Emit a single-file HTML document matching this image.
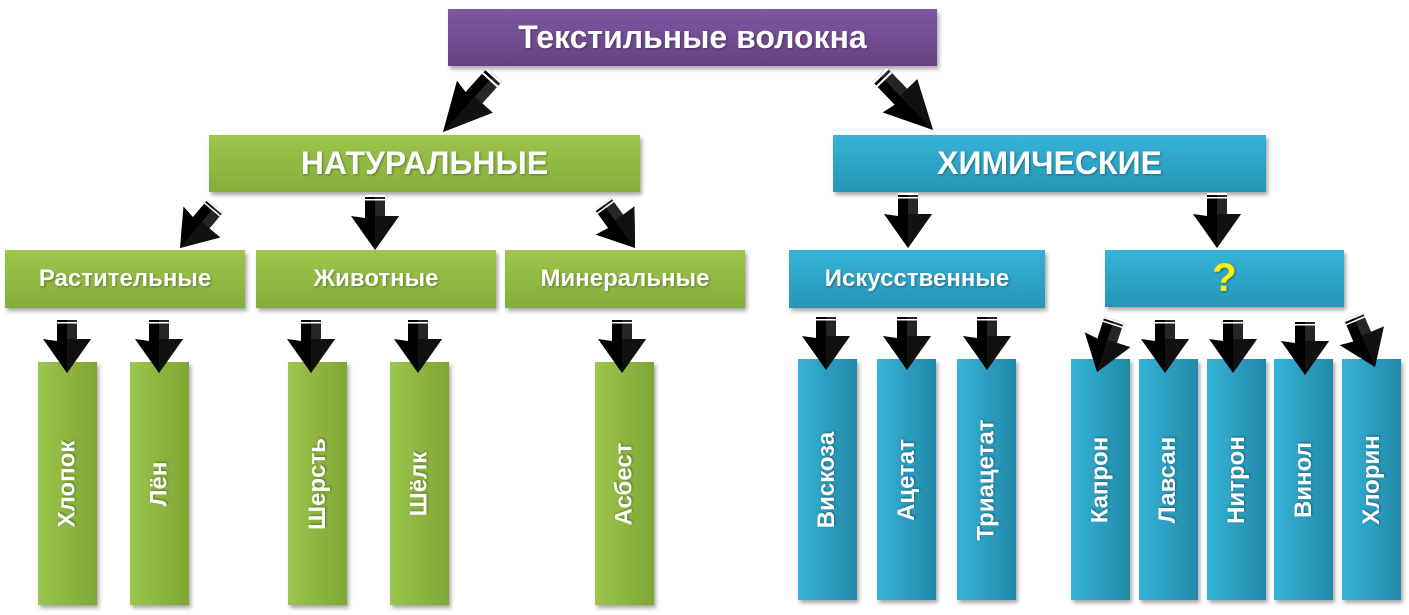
<!DOCTYPE html>
<html><head><meta charset="utf-8"><style>
html,body{margin:0;padding:0;background:#fff;width:1409px;height:615px;overflow:hidden;position:relative;font-family:"Liberation Sans","DejaVu Sans",sans-serif;}
.b{position:absolute;color:#fff;font-weight:bold;display:flex;align-items:center;justify-content:center;box-shadow:2px 3px 4px rgba(0,0,0,.35);text-shadow:1px 1px 2px rgba(0,0,0,.35);}
.g{background:linear-gradient(#9dc64c,#86ad3a);}
.c{background:linear-gradient(#36b3d8,#2596b6);}
.p{background:linear-gradient(#7f57a6,#65427f);}
.gv{background:linear-gradient(90deg,#9dc64c,#7fa534);}
.cv{background:linear-gradient(90deg,#36b3d8,#2289a8);}
.v span{transform:rotate(-90deg);white-space:nowrap;font-size:24px;}
svg{position:absolute;left:0;top:0;}
</style></head><body>
<div class="b p" style="left:448px;top:9px;width:489px;height:57px;font-size:32px;">Текстильные волокна</div>
<div class="b g" style="left:209px;top:135px;width:431px;height:57px;font-size:32px;">НАТУРАЛЬНЫЕ</div>
<div class="b c" style="left:833px;top:135px;width:433px;height:57px;font-size:32px;">ХИМИЧЕСКИЕ</div>

<div class="b g" style="left:5px;top:250px;width:240px;height:58px;font-size:24px;">Растительные</div>
<div class="b g" style="left:256px;top:250px;width:240px;height:58px;font-size:24px;">Животные</div>
<div class="b g" style="left:505px;top:250px;width:240px;height:58px;font-size:24px;">Минеральные</div>
<div class="b c" style="left:789px;top:250px;width:256px;height:58px;font-size:24px;">Искусственные</div>
<div class="b c" style="left:1105px;top:250px;width:239px;height:57px;font-size:40px;color:#ffef00;">?</div>

<div class="b gv v" style="left:38px;top:362px;width:59px;height:243px;"><span>Хлопок</span></div>
<div class="b gv v" style="left:130px;top:362px;width:59px;height:243px;"><span>Лён</span></div>
<div class="b gv v" style="left:288px;top:362px;width:59px;height:243px;"><span>Шерсть</span></div>
<div class="b gv v" style="left:390px;top:362px;width:59px;height:243px;"><span>Шёлк</span></div>
<div class="b gv v" style="left:595px;top:362px;width:59px;height:243px;"><span>Асбест</span></div>

<div class="b cv v" style="left:798px;top:359px;width:59px;height:241px;"><span>Вискоза</span></div>
<div class="b cv v" style="left:877px;top:359px;width:59px;height:241px;"><span>Ацетат</span></div>
<div class="b cv v" style="left:957px;top:359px;width:59px;height:241px;"><span>Триацетат</span></div>
<div class="b cv v" style="left:1071px;top:359px;width:59px;height:241px;"><span>Капрон</span></div>
<div class="b cv v" style="left:1139px;top:359px;width:59px;height:241px;"><span>Лавсан</span></div>
<div class="b cv v" style="left:1207px;top:359px;width:59px;height:241px;"><span>Нитрон</span></div>
<div class="b cv v" style="left:1274px;top:359px;width:59px;height:241px;"><span>Винол</span></div>
<div class="b cv v" style="left:1342px;top:359px;width:59px;height:241px;"><span>Хлорин</span></div>

<svg width="1409" height="615" viewBox="0 0 1409 615">
<defs>
<g id="a">
<polygon points="-10,-55 10,-55 10,-32 24,-34 0,0 -24,-34 -10,-32" fill="#000"/>
<polygon points="0,-55 10,-55 10,-32 24,-34 0,0" fill="#262626"/>
<polygon points="0,-34 24,-34 0,0" fill="#111"/>
<rect x="-10" y="-55" width="20" height="2" fill="#fff"/>
<rect x="-10" y="-51" width="20" height="1.5" fill="#fff"/>
</g>
</defs>
<use href="#a" transform="translate(443,132) rotate(42) scale(1,1.4)"/>
<use href="#a" transform="translate(933,130) rotate(-44) scale(1,1.4)"/>
<use href="#a" transform="translate(180,248) rotate(40)"/>
<use href="#a" transform="translate(375,250)"/>
<use href="#a" transform="translate(635,248) rotate(-36)"/>
<use href="#a" transform="translate(908,248)"/>
<use href="#a" transform="translate(1217,248)"/>
<use href="#a" transform="translate(67,373)"/>
<use href="#a" transform="translate(159,373)"/>
<use href="#a" transform="translate(311,373)"/>
<use href="#a" transform="translate(418,373)"/>
<use href="#a" transform="translate(622,373)"/>
<use href="#a" transform="translate(826,370)"/>
<use href="#a" transform="translate(907,370)"/>
<use href="#a" transform="translate(987,370)"/>
<use href="#a" transform="translate(1097,372) rotate(18)"/>
<use href="#a" transform="translate(1165,373)"/>
<use href="#a" transform="translate(1233,373)"/>
<use href="#a" transform="translate(1305,375)"/>
<use href="#a" transform="translate(1375,367) rotate(-23)"/>
</svg>
</body></html>
